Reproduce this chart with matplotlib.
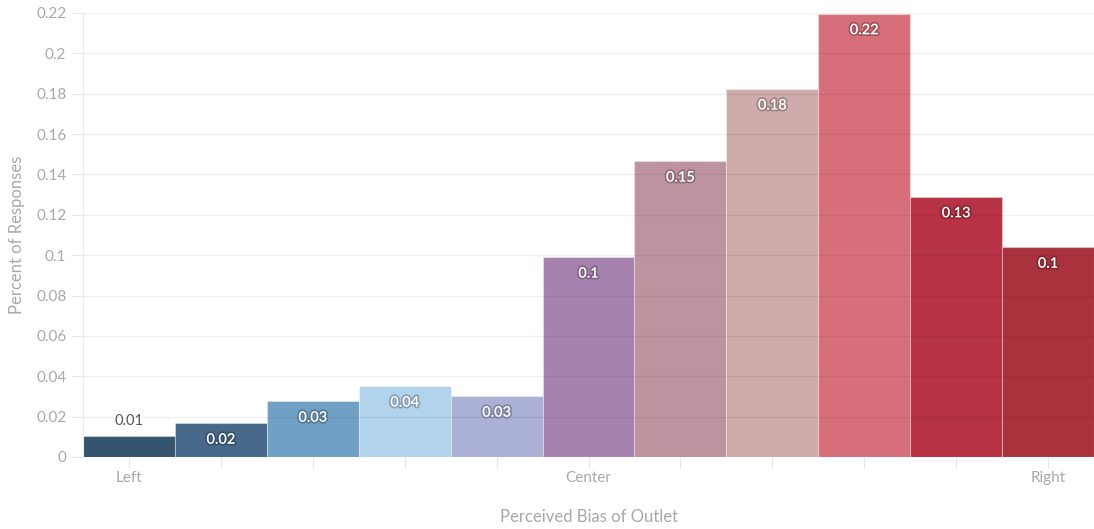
import matplotlib.pyplot as plt
import matplotlib.patheffects as pe
from matplotlib.colors import to_rgb

plt.rcParams['font.family'] = ['Lato', 'DejaVu Sans']

# Distribucion de respuestas por sesgo percibido
posiciones = list(range(1, 12))
valores = [0.0104, 0.0168, 0.0277, 0.0352, 0.0302, 0.0991, 0.1467, 0.1824, 0.2197, 0.1290, 0.1040]
etiquetas = ['0.01', '0.02', '0.03', '0.04', '0.03', '0.1', '0.15', '0.18', '0.22', '0.13', '0.1']
colores = ['#34546f', '#476a8a', '#71a0c5', '#b2d3ec', '#aab0d6', '#a682ae',
           '#bd93a0', '#cfabab', '#d76f7a', '#b73245', '#a9323d']
ticks_y = [0, 0.02, 0.04, 0.06, 0.08, 0.1, 0.12, 0.14, 0.16, 0.18, 0.2, 0.22]
ticks_y_txt = ['0', '0.02', '0.04', '0.06', '0.08', '0.1', '0.12', '0.14', '0.16', '0.18', '0.2', '0.22']
ticks_x_txt = ['Left', '', '', '', '', 'Center', '', '', '', '', 'Right']

gris = '#a8a8a8'

fig = plt.figure(figsize=(10.94, 5.29), dpi=100)
ax = fig.add_axes([83 / 1094, 72 / 529, 1 - 83 / 1094, 444 / 529])

ax.bar(posiciones, valores, width=1.0, color=colores, edgecolor=(1, 1, 1, 0.35),
       linewidth=0.8, zorder=1)

# lineas de la cuadricula por encima de las barras, muy suaves
for t in ticks_y[1:]:
    ax.axhline(t, color=(0, 0, 0, 0.06), linewidth=1, zorder=2)

for x, v, txt, c in zip(posiciones, valores, etiquetas, colores):
    if v < 0.015:
        ax.annotate(txt, (x, v), xytext=(0, 11), textcoords='offset points',
                    ha='center', va='center', fontsize=10.5, color='#555555', zorder=3)
    else:
        r, g, b = to_rgb(c)
        oscuro = (r * 0.6, g * 0.6, b * 0.6, 0.6)
        ax.annotate(txt, (x, v), xytext=(0, -12), textcoords='offset points',
                    ha='center', va='center', fontsize=10.5, color='white',
                    fontweight='semibold', zorder=3,
                    path_effects=[pe.withStroke(linewidth=2.5, foreground=oscuro)])

ax.set_xlim(0.5, 11.5)
ax.set_ylim(0, 0.22)
ax.set_yticks(ticks_y)
ax.set_yticklabels(ticks_y_txt)
ax.set_xticks(posiciones)
ax.set_xticklabels(ticks_x_txt)

for s in ['top', 'right', 'bottom']:
    ax.spines[s].set_visible(False)
ax.spines['left'].set_color('#ebebeb')
ax.tick_params(axis='both', colors='#e6e6e6', labelcolor=gris, labelsize=11, length=8)
ax.tick_params(axis='y', pad=4)
ax.tick_params(axis='x', pad=2)

ax.set_ylabel('Percent of Responses', color=gris, fontsize=12, labelpad=8)
ax.set_xlabel('Perceived Bias of Outlet', color=gris, fontsize=12, labelpad=17)

fig.savefig('out.png', dpi=100)
